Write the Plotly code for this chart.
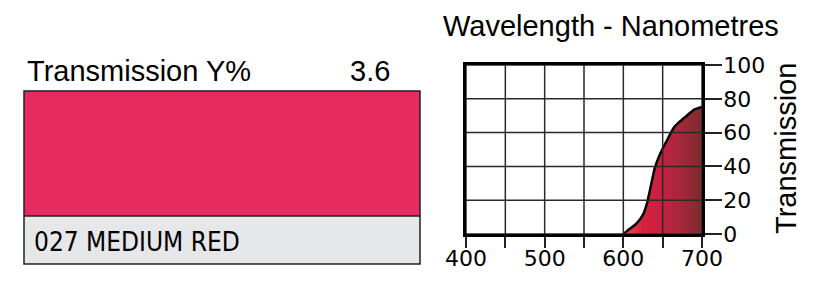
import plotly.graph_objects as go

# ---- data ----
wavelength = [600, 605, 610, 615, 620, 625, 630, 635, 640, 645, 650, 655, 660,
              665, 670, 675, 680, 685, 690, 695, 700]
transmission = [0, 2, 3.7, 5.5, 8, 11.5, 18, 28.5, 39, 45.5, 50.6, 55, 59.5,
                63.5, 65.8, 67.8, 69.7, 71.7, 73.6, 74.5, 75.2]

x_ticks = [400, 450, 500, 550, 600, 650, 700]
x_ticklabels = ["400", "", "500", "", "600", "", "700"]
y_ticks = [0, 20, 40, 60, 80, 100]
y_ticklabels = ["0", "20", "40", "60", "80", "100"]

filter_name = "027 MEDIUM RED"
transmission_y = "3.6"
swatch_color = "#E72A5F"

W, H = 827, 283


def px(x):
    return x / W


def py(y):
    return 1 - y / H


fig = go.Figure()
fig.add_trace(go.Scatter(
    x=wavelength, y=transmission, mode="lines", fill="tozeroy",
    line=dict(color="black", width=2.5, shape="spline", smoothing=0.5),
    fillgradient=dict(type="horizontal", colorscale=[
        [0.0, "#E8503A"], [0.25, "#D8203F"], [0.5, "#C4223F"],
        [0.75, "#A3283A"], [1.0, "#7B2B2B"]]),
    showlegend=False, hoverinfo="skip"))

# grid lines drawn above the filled area, as in the reference
for xv in x_ticks:
    fig.add_shape(type="line", xref="x", yref="y", x0=xv, x1=xv, y0=0, y1=100,
                  layer="above", line=dict(color="#2a2a2a", width=1.5))
for yv in y_ticks:
    fig.add_shape(type="line", xref="x", yref="y", x0=400, x1=700, y0=yv, y1=yv,
                  layer="above", line=dict(color="#2a2a2a", width=1.5))

font_main = "Liberation Sans, Arial, Helvetica, sans-serif"
font_ticks = "DejaVu Sans, Liberation Sans, sans-serif"

axis_common = dict(ticks="outside", tickwidth=2, tickcolor="#222",
                   showgrid=False, showline=True, linecolor="black",
                   linewidth=2.5, mirror=True, zeroline=False,
                   automargin=False, layer="above traces",
                   tickfont=dict(family=font_ticks, size=22, color="black"))

fig.update_layout(
    template="none",
    width=W, height=H, margin=dict(l=0, r=0, t=0, b=0, pad=0, autoexpand=False),
    paper_bgcolor="white", plot_bgcolor="white",
    xaxis=dict(domain=[px(466), px(702)], range=[400, 700],
               tickvals=x_ticks, ticktext=x_ticklabels, ticklen=11,
               ticklabelstandoff=-8, **axis_common),
    yaxis=dict(domain=[py(234), py(65)], range=[0, 100], side="right",
               tickvals=y_ticks, ticktext=y_ticklabels, ticklen=17,
               ticklabelstandoff=-3, **axis_common),
)

# swatch
fig.add_shape(type="rect", xref="paper", yref="paper",
              x0=px(24), x1=px(420), y0=py(216), y1=py(91),
              fillcolor=swatch_color, line=dict(width=0))
fig.add_shape(type="rect", xref="paper", yref="paper",
              x0=px(24), x1=px(420), y0=py(264), y1=py(216),
              fillcolor="#E6E7E9", line=dict(width=0))
fig.add_shape(type="line", xref="paper", yref="paper",
              x0=px(24), x1=px(420), y0=py(216), y1=py(216),
              line=dict(color="#222", width=1.5))
fig.add_shape(type="rect", xref="paper", yref="paper",
              x0=px(24), x1=px(420), y0=py(264), y1=py(91),
              line=dict(color="#222", width=1.5))

ann = [
    dict(text="Transmission Y%", x=px(25), y=py(71), xanchor="left",
         font=dict(family=font_main, size=29)),
    dict(text=transmission_y, x=px(392), y=py(71), xanchor="right",
         font=dict(family=font_main, size=29)),
    dict(text=filter_name, x=px(32), y=py(242), xanchor="left",
         font=dict(family="Liberation Sans Narrow, DejaVu Sans Condensed, Roboto Condensed, Arial Narrow, sans-serif", size=26)),
    dict(text="Wavelength - Nanometres", x=px(611), y=py(26), xanchor="center",
         font=dict(family=font_main, size=29)),
    dict(text="Transmission", x=px(786), y=py(149), xanchor="center",
         textangle=-90, font=dict(family=font_main, size=29)),
]
for a in ann:
    a.update(xref="paper", yref="paper", yanchor="middle", showarrow=False)
    a["font"]["color"] = "black"
    fig.add_annotation(**a)

fig.write_html("out.html")
